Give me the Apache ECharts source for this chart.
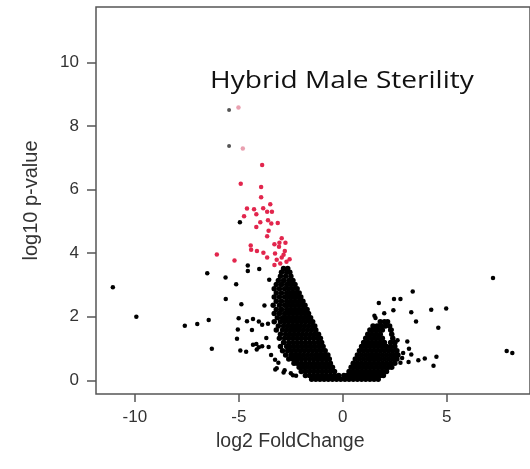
<!DOCTYPE html>
<html>
<head>
<meta charset="utf-8">
<script src="https://cdn.jsdelivr.net/npm/echarts@6/dist/echarts.min.js"></script>
<style>
  html, body { margin: 0; padding: 0; background: #fff; }
  #main { width: 530px; height: 469px; }
</style>
</head>
<body>
<div id="main"></div>
<script>
// tick labels
var xTicks = [-10, -5, 0, 5];
var yTicks = [0, 2, 4, 6, 8, 10];

// dense cloud, left arm: [log10 p, [log2 FC ...]]
var cloudLeftRows = [
    [0.03, [-1.5, -1.3, -1.1, -0.9, -0.7, -0.5, -0.3, -0.1]],
    [0.15, [-1.8, -1.6, -1.4, -1.2, -1.0, -0.8, -0.6, -0.4, -0.2]],
    [0.28, [-2.0, -1.8, -1.6, -1.4, -1.2, -1.0, -0.8, -0.6, -0.4]],
    [0.41, [-2.1, -1.9, -1.7, -1.5, -1.3, -1.1, -0.9, -0.7, -0.5]],
    [0.54, [-2.35, -2.2, -2.0, -1.8, -1.6, -1.4, -1.2, -1.0, -0.8, -0.6]],
    [0.67, [-2.6, -2.4, -2.2, -2.0, -1.8, -1.6, -1.4, -1.2, -1.0, -0.8, -0.65]],
    [0.80, [-2.75, -2.5, -2.3, -2.1, -1.9, -1.7, -1.5, -1.3, -1.1, -0.9, -0.72]],
    [0.93, [-2.9, -2.65, -2.45, -2.25, -2.05, -1.85, -1.65, -1.45, -1.25, -1.05, -0.85]],
    [1.06, [-3.0, -2.7, -2.55, -2.35, -2.15, -1.95, -1.75, -1.55, -1.35, -1.15, -0.95]],
    [1.19, [-2.85, -2.6, -2.4, -2.2, -2.0, -1.8, -1.6, -1.4, -1.2, -1.02]],
    [1.32, [-3.05, -2.8, -2.6, -2.4, -2.2, -2.0, -1.8, -1.6, -1.4, -1.2, -1.08]],
    [1.45, [-3.0, -2.75, -2.55, -2.35, -2.15, -1.95, -1.75, -1.55, -1.35, -1.17]],
    [1.58, [-3.2, -2.9, -2.7, -2.5, -2.3, -2.1, -1.9, -1.7, -1.5, -1.3]],
    [1.71, [-3.1, -2.85, -2.65, -2.45, -2.25, -2.05, -1.85, -1.65, -1.45, -1.35]],
    [1.84, [-3.3, -3.0, -2.8, -2.6, -2.4, -2.2, -2.0, -1.8, -1.6, -1.45]],
    [1.97, [-3.15, -2.9, -2.7, -2.5, -2.3, -2.1, -1.9, -1.7, -1.55]],
    [2.10, [-3.3, -3.05, -2.8, -2.6, -2.4, -2.2, -2.0, -1.8, -1.65]],
    [2.23, [-3.2, -2.95, -2.7, -2.5, -2.3, -2.1, -1.9, -1.72]],
    [2.36, [-3.35, -3.05, -2.8, -2.6, -2.4, -2.2, -2.0, -1.82]],
    [2.49, [-3.2, -2.95, -2.7, -2.5, -2.3, -2.1, -1.92]],
    [2.62, [-3.3, -3.05, -2.8, -2.6, -2.4, -2.2, -2.02]],
    [2.75, [-3.2, -2.95, -2.7, -2.5, -2.3, -2.1]],
    [2.88, [-3.3, -3.05, -2.8, -2.6, -2.4, -2.2]],
    [3.01, [-3.2, -2.95, -2.7, -2.5, -2.3]],
    [3.14, [-3.1, -2.85, -2.6, -2.4]],
    [3.27, [-3.0, -2.75, -2.5]],
    [3.40, [-2.95, -2.7, -2.55]],
    [3.52, [-2.85, -2.65]]
];

// dense cloud, right arm
var cloudRightRows = [
    [0.03, [0.1, 0.3, 0.5, 0.7, 0.9, 1.1, 1.3, 1.5, 1.7]],
    [0.15, [0.05, 0.2, 0.4, 0.6, 0.8, 1.0, 1.2, 1.4, 1.6, 1.8, 1.95]],
    [0.28, [0.3, 0.5, 0.7, 0.9, 1.1, 1.3, 1.5, 1.7, 1.9, 2.1]],
    [0.41, [0.4, 0.6, 0.8, 1.0, 1.2, 1.4, 1.6, 1.8, 2.0, 2.2, 2.35]],
    [0.54, [0.5, 0.7, 0.9, 1.1, 1.3, 1.5, 1.7, 1.9, 2.1, 2.3, 2.5]],
    [0.67, [0.6, 0.8, 1.0, 1.2, 1.4, 1.6, 1.8, 2.0, 2.2, 2.4, 2.6]],
    [0.80, [0.7, 0.9, 1.1, 1.3, 1.5, 1.7, 1.9, 2.1, 2.3, 2.5, 2.65]],
    [0.93, [0.8, 1.0, 1.2, 1.4, 1.6, 1.8, 2.0, 2.2, 2.4, 2.6]],
    [1.06, [0.9, 1.1, 1.3, 1.5, 1.7, 1.9, 2.1, 2.3, 2.5]],
    [1.19, [1.0, 1.2, 1.4, 1.6, 1.8, 2.0, 2.3, 2.5]],
    [1.32, [1.1, 1.3, 1.5, 1.7, 1.9, 2.4]],
    [1.45, [1.2, 1.4, 1.6, 1.8, 2.35]],
    [1.58, [1.3, 1.5, 1.7, 1.9, 2.3]],
    [1.71, [1.45, 1.65, 1.85, 2.05, 2.25]],
    [1.84, [1.8, 2.0, 2.15]]
];

// scattered black genes [log2 FC, log10 p]
var scatterBlack = [
    [-11.06, 2.93], [-9.93, 2.0], [-7.6, 1.72], [-7.0, 1.77], [-6.45, 1.9], [-6.3, 0.99],
    [-6.52, 3.37], [-5.64, 3.23], [-5.63, 2.56], [-5.13, 3.02], [-4.57, 3.61], [-4.57, 3.44],
    [-4.02, 3.5], [-4.95, 4.97], [-4.88, 2.39], [-5.01, 1.95], [-4.61, 1.86], [-4.32, 1.93],
    [-4.04, 1.85], [-5.05, 1.6], [-4.37, 1.58], [-5.09, 1.31], [-4.32, 1.12], [-4.16, 1.14],
    [-4.04, 1.04], [-4.93, 0.94], [-4.65, 0.9], [-4.14, 0.97], [-3.54, 3.16], [-3.77, 2.35],
    [-3.88, 1.75], [-3.6, 1.78], [-3.68, 1.33], [-3.88, 1.07], [-3.57, 1.05], [-3.45, 0.8],
    [-3.26, 0.65], [-3.1, 0.55], [-3.18, 0.38], [-2.8, 0.32], [-2.5, 0.22], [-2.25, 0.14],
    [-3.25, 0.34], [-2.85, 0.25], [-2.4, 0.16],
    [7.22, 3.22], [7.88, 0.92], [8.15, 0.86], [4.97, 2.26], [4.25, 2.22], [4.59, 1.65],
    [4.5, 0.74], [4.36, 0.46], [3.36, 2.79], [2.46, 2.56], [2.77, 2.56], [1.73, 2.43],
    [1.99, 2.11], [2.43, 2.2], [1.52, 2.03], [1.57, 1.96], [3.29, 2.14], [3.52, 1.85],
    [2.63, 1.26], [3.1, 1.22], [3.18, 0.99], [2.9, 0.86], [3.29, 0.81], [3.16, 0.58],
    [3.63, 0.63], [3.94, 0.69], [2.77, 0.55], [2.85, 0.7], [2.35, 1.59], [2.51, 1.17]
];
var fadedBlack = [[-5.47, 8.5], [-5.47, 7.37]];

// significant genes (red)
var redPoints = [
    [-3.88, 6.77], [-4.91, 6.18], [-3.93, 6.08], [-3.93, 5.76], [-3.49, 5.54], [-4.61, 5.4],
    [-4.27, 5.38], [-3.83, 5.41], [-3.64, 5.3], [-3.41, 5.3], [-4.75, 5.16], [-4.16, 5.22],
    [-3.97, 4.97], [-3.6, 5.03], [-3.44, 4.93], [-3.13, 4.95], [-4.16, 4.82], [-3.57, 4.7],
    [-3.64, 4.53], [-2.94, 4.47], [-4.43, 4.24], [-3.29, 4.28], [-2.76, 4.33], [-4.41, 4.11],
    [-4.13, 4.07], [-3.82, 4.01], [-3.07, 4.2], [-2.79, 4.07], [-3.26, 3.99], [-3.64, 3.86],
    [-3.18, 3.79], [-2.94, 3.86], [-2.71, 3.73], [-2.56, 3.81], [-5.21, 3.77], [-3.01, 3.67],
    [-3.29, 3.63], [-6.06, 3.96], [-2.85, 3.95], [-3.05, 4.33]
];
var fadedRed = [[-5.02, 8.58], [-4.81, 7.29]];

function buildRows(rows) {
    var pts = [];
    for (var i = 0; i < rows.length; i++) {
        for (var j = 0; j < rows[i][1].length; j++) {
            pts.push([rows[i][1][j], rows[i][0]]);
        }
    }
    return pts;
}

var cloud = buildRows(cloudLeftRows).concat(buildRows(cloudRightRows));

var axisFont = 'Liberation Sans, Arial, sans-serif';
var myChart = echarts.init(document.getElementById('main'));
var option = {
    animation: false,
    backgroundColor: '#fff',
    graphic: [{
        type: 'text',
        x: 210,
        y: 70,
        scaleX: 1.22,
        z: 100,
        style: { text: 'Hybrid Male Sterility', font: '23px "Open Sans"', fill: '#111' }
    }, {
        type: 'text',
        left: 216,
        top: 432,
        style: { text: 'log2 FoldChange', font: '19.5px ' + axisFont, fill: '#333' }
    }],
    grid: {
        left: 96, top: 7, width: 446, bottom: 75,
        show: true, borderColor: '#555', borderWidth: 1.5, backgroundColor: '#fff'
    },
    xAxis: {
        type: 'value', min: -11.87, max: 9,
        splitLine: { show: false },
        axisLine: { show: false, onZero: false },
        axisTick: { show: true, customValues: xTicks, length: 8, inside: false, lineStyle: { color: '#555', width: 1.5 } },
        axisLabel: { customValues: xTicks, margin: 15, fontSize: 17, color: '#333', fontFamily: axisFont }
    },
    yAxis: {
        type: 'value', min: -0.43, max: 11.74,
        name: 'log10 p-value', nameLocation: 'middle', nameGap: 55, nameRotate: 90,
        nameTextStyle: { fontSize: 20, color: '#333', fontFamily: axisFont },
        splitLine: { show: false },
        axisLine: { show: false, onZero: false },
        axisTick: { show: true, customValues: yTicks, length: 9, inside: false, lineStyle: { color: '#555', width: 1.5 } },
        axisLabel: { customValues: yTicks, margin: 17, fontSize: 17, color: '#333', fontFamily: axisFont }
    },
    series: [
        { type: 'scatter', name: 'cloud', data: cloud, symbolSize: 5.5, itemStyle: { color: '#000', opacity: 1 } },
        { type: 'scatter', name: 'other', data: scatterBlack, symbolSize: 4.5, itemStyle: { color: '#000', opacity: 1 } },
        { type: 'scatter', name: 'faded', data: fadedBlack, symbolSize: 4, itemStyle: { color: '#555', opacity: 1 } },
        { type: 'scatter', name: 'sig', data: redPoints, symbolSize: 4.5, itemStyle: { color: '#e2264d', opacity: 1 } },
        { type: 'scatter', name: 'sigFaded', data: fadedRed, symbolSize: 4.5, itemStyle: { color: '#e9a0b0', opacity: 1 } }
    ]
};
myChart.setOption(option);
</script>
</body>
</html>
